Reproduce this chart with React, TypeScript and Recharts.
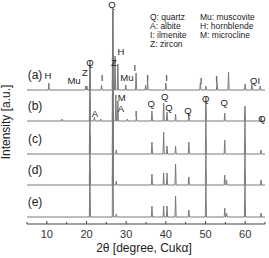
import React from "react";
import { LineChart, Line, XAxis, YAxis, ReferenceDot } from "recharts";

// peaks per pattern: [2θ (deg), height above its own baseline (a.u.)]
const peaksA: [number, number][] = [
  [10.5, 7], [19.8, 4], [20.1, 4], [20.86, 23], [23.8, 5], [26.64, 80],
  [27.2, 34], [27.9, 26], [29.9, 5], [32.5, 17], [34.9, 5], [35.4, 9],
  [40.0, 7], [48.7, 7], [50.1, 4], [52.9, 8], [55.8, 18], [60.0, 6],
  [61.7, 6], [63.8, 4],
];
const peaksB: [number, number][] = [
  [13.8, 2], [20.86, 60], [22.0, 4], [23.6, 2], [26.64, 110], [27.4, 26],
  [27.9, 20], [30.3, 2], [32.6, 4], [36.5, 10], [39.45, 18], [40.3, 9],
  [42.45, 7], [45.8, 8], [50.1, 24], [54.85, 8], [59.95, 15], [64.0, 5],
];
const peaksC: [number, number][] = [
  [20.86, 55], [26.64, 100], [27.5, 4], [36.5, 12], [39.45, 22], [40.3, 8],
  [42.45, 8], [45.8, 12], [50.1, 33], [54.85, 14], [59.95, 33], [64.0, 4],
];
const peaksD: [number, number][] = [
  [20.86, 50], [26.64, 100], [27.5, 4], [36.5, 11], [39.45, 12], [40.3, 12],
  [42.45, 21], [45.8, 8], [50.1, 32], [54.85, 10], [55.3, 5], [59.95, 32],
  [64.0, 5],
];
const peaksE: [number, number][] = [
  [20.86, 45], [26.64, 100], [27.5, 3], [36.5, 11], [39.45, 11], [40.3, 11],
  [42.45, 21], [45.8, 7], [50.1, 32], [54.85, 9], [55.3, 4], [59.95, 32],
  [64.0, 4],
];

const traceNames = ["(a)", "(b)", "(c)", "(d)", "(e)"];
const traceOffsets = [134, 103, 70, 39, 7];
const allPeaks = [peaksA, peaksB, peaksC, peaksD, peaksE];

const xTicks = [5, 10, 15, 20, 25, 30, 35, 40, 45, 50, 55, 60, 65];

// phase labels: [text, 2θ, intensity]
const phaseLabels: [string, number, number][] = [
  ["H", 10.3, 149], ["Mu", 16.85, 144], ["Z", 19.6, 152], ["Q", 20.9, 162],
  ["I", 23.9, 147], ["Q", 26.43, 220], ["H", 28.7, 173], ["Z", 26.9, 162],
  ["Mu", 30.2, 147], ["I", 32.2, 157], ["I", 35.4, 147], ["I", 40.2, 147],
  ["I", 48.9, 144], ["I", 52.8, 146], ["QI", 62.5, 144],
  ["A", 22.1, 111], ["M", 28.9, 127], ["A", 28.7, 116], ["I", 32.5, 111],
  ["Q", 36.3, 121], ["Q", 39.7, 128], ["Q", 40.8, 117], ["Q", 45.6, 114],
  ["Q", 50.05, 126], ["Q", 54.7, 122], ["Q", 64.2, 106],
];

const legendLeft = ["Q: quartz", "A: albite", "I: ilmenite", "Z: zircon"];
const legendRight = ["Mu: muscovite", "H: hornblende", "M: microcline"];

const FONT = "Liberation Sans, Arial, sans-serif";
const HALF_WIDTH = 0.15;

function buildTrace(peaks: [number, number][], base: number) {
  const pts = [{ x: 5, y: base }];
  peaks.forEach(([p, h]) => {
    pts.push({ x: p - HALF_WIDTH, y: base });
    pts.push({ x: p, y: base + h });
    pts.push({ x: p + HALF_WIDTH, y: base });
  });
  pts.push({ x: 65, y: base });
  return pts;
}

const traces = allPeaks.map((pk, i) => buildTrace(pk, traceOffsets[i]));

function Tick(props: any) {
  const { x, y, payload } = props;
  const major = payload.value % 10 === 0 && payload.value > 5 && payload.value < 65;
  return (
    <g>
      <line x1={x} x2={x} y1={y} y2={y - (major ? 3 : 2)} stroke="#444" />
      {major && (
        <text x={x} y={y + 14} textAnchor="middle" fontSize={11} fill="#333" fontFamily={FONT}>
          {payload.value}
        </text>
      )}
    </g>
  );
}

const textShape = (t: string, size: number) => (p: any) =>
  (
    <text x={p.cx} y={p.cy} textAnchor="middle" dominantBaseline="central" fontSize={size} fill="#222" fontFamily={FONT}>
      {t}
    </text>
  );

export default function App() {
  return (
    <div style={{ position: "relative", width: 269, height: 258 }}>
      <style>{`body{margin:0}`}</style>
      <LineChart width={269} height={258} margin={{ top: 0, right: 4, left: 27, bottom: 0 }}>
        <XAxis
          type="number"
          dataKey="x"
          domain={[5, 65]}
          ticks={xTicks}
          interval={0}
          height={34}
          tickSize={0}
          tickMargin={0}
          tickLine={false}
          axisLine={{ stroke: "#444" }}
          tick={<Tick />}
        />
        <YAxis type="number" domain={[0, 224]} hide />
        {traces.map((d, i) => (
          <Line
            key={traceNames[i]}
            data={d}
            dataKey="y"
            type="linear"
            stroke="#7a7a7a"
            strokeWidth={1}
            dot={false}
            isAnimationActive={false}
          />
        ))}
        {traceNames.map((n, i) => (
          <ReferenceDot key={n} x={7.02} y={traceOffsets[i] + 15} r={0} ifOverflow="visible" shape={textShape(n, 12)} />
        ))}
        {phaseLabels.map(([t, x, y], i) => (
          <ReferenceDot key={i} x={x} y={y} r={0} ifOverflow="visible" shape={textShape(t, 9.5)} />
        ))}
      </LineChart>
      <svg width={269} height={258} style={{ position: "absolute", left: 0, top: 0, pointerEvents: "none" }}>
        {legendLeft.map((t, i) => (
          <text key={t} x={150} y={19.5 + i * 9} fontSize={8.5} fill="#222" fontFamily={FONT}>
            {t}
          </text>
        ))}
        {legendRight.map((t, i) => (
          <text key={t} x={200} y={19.5 + i * 9} fontSize={8.5} fill="#222" fontFamily={FONT}>
            {t}
          </text>
        ))}
        <text x={144} y={252} textAnchor="middle" fontSize={12} fill="#222" fontFamily={FONT}>
          2θ [degree, Cukα]
        </text>
        <text x={10} y={122} textAnchor="middle" fontSize={12} fill="#222" fontFamily={FONT} transform="rotate(-90 10 122)">
          Intensity [a.u.]
        </text>
      </svg>
    </div>
  );
}
